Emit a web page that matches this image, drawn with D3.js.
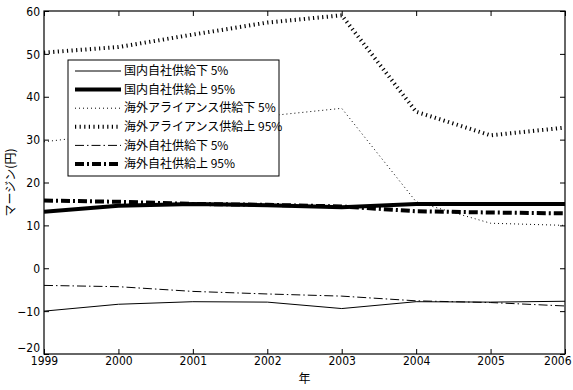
<!DOCTYPE html>
<html>
<head>
<meta charset="utf-8">
<script src="https://cdn.jsdelivr.net/npm/d3@7"></script>
<style>
  body { margin: 0; background: #fff; }
  svg { display: block; }
  .tick-label { font-family: "DejaVu Sans Condensed", "Liberation Sans Narrow", "Liberation Sans", sans-serif; font-stretch: condensed; font-size: 12px; }
  .jp { font-family: "Noto Sans CJK JP", sans-serif; font-size: 12px; }
</style>
</head>
<body>
<div id="chart"></div>
<script>
const years = [1999, 2000, 2001, 2002, 2003, 2004, 2005, 2006];
const yTicks = [-20, -10, 0, 10, 20, 30, 40, 50, 60];

const domLow  = [-10, -8.4, -7.8, -7.9, -9.4, -7.8, -7.9, -7.7];
const domHigh = [13.2, 14.6, 15.0, 14.7, 14.2, 15.0, 15.0, 15.0];
const allyLow  = [29.5, 31.5, 33.5, 35.5, 37.3, 15.5, 10.5, 10.0];
const allyHigh = [50.3, 51.6, 54.5, 57.3, 59.0, 36.5, 31.0, 32.8];
const ovsLow  = [-4.0, -4.3, -5.4, -6.0, -6.5, -7.6, -8.0, -8.8];
const ovsHigh = [15.8, 15.5, 15.0, 14.8, 14.4, 13.3, 13.0, 12.8];

const seriesNames = [
  "国内自社供給下 5%",
  "国内自社供給上 95%",
  "海外アライアンス供給下 5%",
  "海外アライアンス供給上 95%",
  "海外自社供給下 5%",
  "海外自社供給上 95%"
];
const seriesValues = [domLow, domHigh, allyLow, allyHigh, ovsLow, ovsHigh];
const seriesStyle = [
  { w: 1, dash: null },
  { w: 4, dash: null },
  { w: 1, dash: "1,3" },
  { w: 4, dash: "1.2,3.4" },
  { w: 1, dash: "9,3,1.5,3" },
  { w: 4, dash: "9,3,2,3" }
];

const w = 573, h = 390;
const pLeft = 44, pRight = 565, pTop = 11, pBottom = 354;

const svg = d3.select("#chart").append("svg")
  .attr("width", w)
  .attr("height", h);

const x = d3.scaleLinear().domain([1999, 2006]).range([pLeft, pRight]);
const y = d3.scaleLinear().domain([-20, 60]).range([pBottom, pTop]);

svg.append("clipPath").attr("id", "plot")
  .append("rect")
  .attr("x", pLeft).attr("y", pTop)
  .attr("width", pRight - pLeft).attr("height", pBottom - pTop);

const line = d3.line()
  .x((d, i) => x(years[i]))
  .y(d => y(d));

// series
svg.append("g").attr("clip-path", "url(#plot)")
  .selectAll("path")
  .data(seriesValues)
  .enter()
  .append("path")
  .attr("d", d => line(d))
  .attr("fill", "none")
  .attr("stroke", "#000")
  .attr("stroke-width", (d, i) => seriesStyle[i].w)
  .attr("stroke-dasharray", (d, i) => seriesStyle[i].dash);

// axes, MATLAB style: ticks inward on all four sides
const xAxis = d3.axisBottom(x).tickValues(years).tickFormat(d3.format("d")).tickSizeInner(-5).tickSizeOuter(0).tickPadding(4);
const xAxisTop = d3.axisTop(x).tickValues(years).tickFormat("").tickSizeInner(-5).tickSizeOuter(0);
const yAxis = d3.axisLeft(y).tickValues(yTicks).tickSizeInner(-5).tickSizeOuter(0).tickPadding(4);
const yAxisRight = d3.axisRight(y).tickValues(yTicks).tickFormat("").tickSizeInner(-5).tickSizeOuter(0);

const gx = svg.append("g").attr("transform", "translate(0," + pBottom + ")").call(xAxis);
svg.append("g").attr("transform", "translate(0," + pTop + ")").call(xAxisTop);
const gy = svg.append("g").attr("transform", "translate(" + pLeft + ",0)").call(yAxis);
svg.append("g").attr("transform", "translate(" + pRight + ",0)").call(yAxisRight);

svg.selectAll(".domain").remove();
svg.selectAll(".tick line").attr("stroke", "#000");
svg.selectAll(".tick text").attr("class", "tick-label").attr("fill", "#000");
gx.selectAll(".tick text").attr("dy", "0.6em");
gy.selectAll(".tick text").attr("dy", "0.35em");

// bottom y label sits just above the first year label
gy.selectAll(".tick text")
  .filter(d => d === -20)
  .attr("dy", "-0.2em");

// last year label sits against the right edge of the figure
gx.selectAll(".tick text")
  .filter(d => d === 2006)
  .attr("text-anchor", "end")
  .attr("x", w - 2 - x(2006));

svg.append("rect")
  .attr("x", pLeft).attr("y", pTop)
  .attr("width", pRight - pLeft).attr("height", pBottom - pTop)
  .attr("fill", "none").attr("stroke", "#000").attr("stroke-width", 1.2);

// axis titles
svg.append("text")
  .attr("class", "jp")
  .attr("x", (pLeft + pRight) / 2)
  .attr("y", 383)
  .attr("text-anchor", "middle")
  .text("年");

svg.append("text")
  .attr("class", "jp")
  .attr("transform", "translate(15," + ((pTop + pBottom) / 2) + ") rotate(-90)")
  .attr("text-anchor", "middle")
  .text("マージン(円)");

// legend
const lg = svg.append("g").attr("transform", "translate(68,60)");
lg.append("rect")
  .attr("width", 211).attr("height", 116)
  .attr("fill", "#fff").attr("stroke", "#000");

const rows = lg.selectAll("g.row")
  .data(seriesNames)
  .enter()
  .append("g")
  .attr("class", "row")
  .attr("transform", (d, i) => "translate(0," + (11 + i * 18.6) + ")");

rows.append("line")
  .attr("x1", 7).attr("x2", 53)
  .attr("stroke", "#000")
  .attr("stroke-width", (d, i) => seriesStyle[i].w)
  .attr("stroke-dasharray", (d, i) => seriesStyle[i].dash);

rows.append("text")
  .attr("class", "jp")
  .attr("x", 56)
  .attr("dy", "0.35em")
  .text(d => d);
</script>
</body>
</html>
